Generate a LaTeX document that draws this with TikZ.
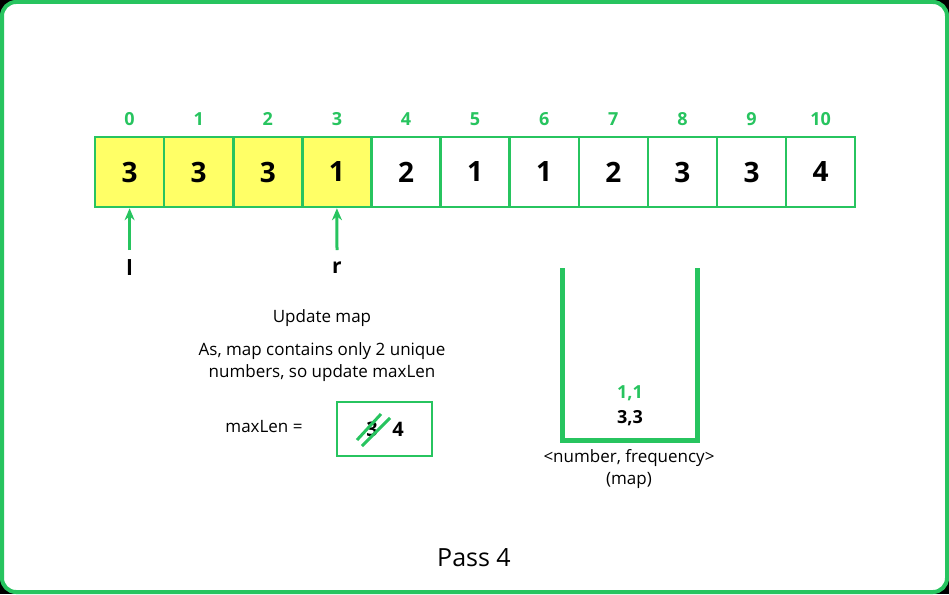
\documentclass[tikz,border=0pt]{standalone}
\usepackage{fontspec}
\setmainfont{Open Sans}
\usetikzlibrary{positioning}
\definecolor{gfg}{RGB}{39,196,95}
\definecolor{cellyellow}{RGB}{255,255,102}
\tikzset{
  cell/.style={draw=gfg,line width=2.5pt,minimum width=69.1pt,minimum height=70pt,
    inner sep=0pt,font=\bfseries\fontsize{28}{32}\selectfont},
  idx/.style={text=gfg,font=\bfseries\fontsize{18}{22}\selectfont},
  txt/.style={font=\fontsize{17}{22}\selectfont},
  ptr/.style={-{Stealth[length=12pt,width=10pt]},draw=gfg,line width=3pt}
}
\usetikzlibrary{arrows.meta}
\begin{document}
\begin{tikzpicture}[x=1pt,y=-1pt]
  \fill[black] (0,0) rectangle (949,594);
  \draw[gfg,line width=4pt,fill=white,rounded corners=14pt] (2,2) rectangle (947,592);
  % array
  \foreach \v [count=\i from 0] in {3,3,3,1,2,1,1,2,3,3,4} {
    \ifnum\i<4 \def\fc{cellyellow}\else\def\fc{white}\fi
    \node[cell,fill=\fc] (c\i) at ({129.6+69.1*\i},172) {\v};
    \node[idx] (i\i) at ({129.6+69.1*\i},119) {\i};
  }
  % pointers
  \node[font=\bfseries\fontsize{21}{24}\selectfont] (l) at (129.6,268) {l};
  \node[font=\bfseries\fontsize{21}{24}\selectfont] (r) at (337,268) {r};
  \draw[ptr] (129.6,250) -- (c0.south);
  \draw[ptr] (337,250) -- (c3.south);
  % explanation
  \node[txt] (upd) at (322,318) {Update map};
  \node[txt,align=center] (as) at (322,362) {As, map contains only 2 unique\\numbers, so update maxLen};
  \node[txt] (ml) at (264,427) {maxLen =};
  \node[draw=gfg,line width=2.5pt,minimum width=95pt,minimum height=54pt] (box) at (384.5,429) {};
  \node[font=\bfseries\fontsize{20}{24}\selectfont] (old) at (372,429) {3};
  \node[font=\bfseries\fontsize{20}{24}\selectfont] (new) at (398,429) {4};
  \draw[gfg,line width=3pt] (357,440) -- (381,414);
  \draw[gfg,line width=3pt] (362,446) -- (390,418);
  % map bucket
  \draw[gfg,line width=5pt] (562,268) -- (562,440) -- (697,440) -- (697,268);
  \node[idx] (m1) at (630,393) {1,1};
  \node[font=\bfseries\fontsize{18}{22}\selectfont] (m2) at (630,418) {3,3};
  \node[txt,align=center] (cap) at (629,469) {<number, frequency>\\(map)};
  \node[font=\fontsize{25}{30}\selectfont] (pass) at (474,558) {Pass 4};
\end{tikzpicture}
\end{document}
